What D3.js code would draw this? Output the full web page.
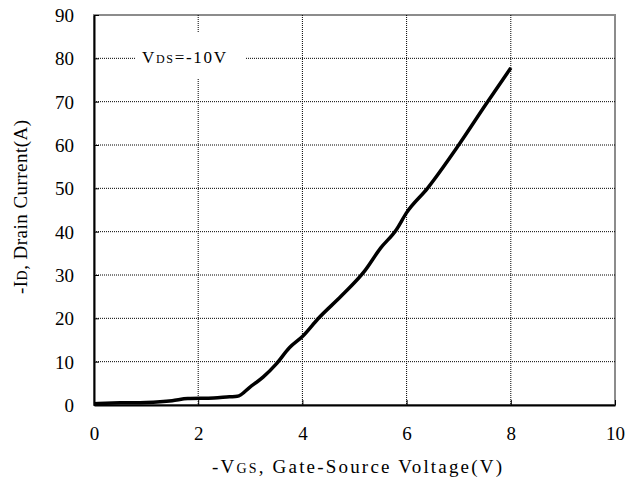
<!DOCTYPE html>
<html>
<head>
<meta charset="utf-8">
<script src="https://cdn.jsdelivr.net/npm/d3@7"></script>
<style>
  body { margin: 0; background: #fff; }
  svg text { font-family: "Liberation Serif", "DejaVu Serif", serif; fill: #000; }
</style>
</head>
<body>
<div id="chart"></div>
<script>
// -VGS (V) vs -ID (A)
const vgs = [0, 0.5, 1.0, 1.5, 1.8, 2.3, 2.6, 2.75, 3.0, 3.25, 3.5, 3.75, 4.0, 4.3, 4.75, 5.2, 5.5, 5.8, 6.0, 6.4, 7.0, 7.5, 8.0];
const idr = [0.3, 0.5, 0.6, 1.0, 1.5, 1.6, 1.9, 2.0, 4.2, 6.5, 9.5, 13.2, 15.8, 19.9, 25.2, 31.0, 36.2, 40.4, 44.4, 50.0, 60, 69.0, 77.8];
const xTicks = [0, 2, 4, 6, 8, 10];
const yTicks = [0, 10, 20, 30, 40, 50, 60, 70, 80, 90];

const width = 626, height = 481;
const margin = {top: 15, right: 11, bottom: 76, left: 94};
const w = width - margin.left - margin.right;
const h = height - margin.top - margin.bottom;

const svg = d3.select('#chart').append('svg')
  .attr('width', width)
  .attr('height', height);

const g = svg.append('g')
  .attr('transform', `translate(${margin.left},${margin.top})`);

const x = d3.scaleLinear().domain([0, 10]).range([0, w]);
const y = d3.scaleLinear().domain([0, 90]).range([h, 0]);

// plot frame (grey top/right)
g.append('rect')
  .attr('width', w).attr('height', h)
  .attr('fill', 'none')
  .attr('stroke', '#8c8c8c')
  .attr('stroke-width', 2);

// dotted grid
g.append('g').selectAll('line')
  .data(xTicks.slice(1, -1))
  .join('line')
  .attr('x1', d => x(d)).attr('x2', d => x(d))
  .attr('y1', 0).attr('y2', h)
  .attr('stroke', '#000').attr('stroke-width', 1)
  .attr('stroke-dasharray', '1,1');

g.append('g').selectAll('line')
  .data(yTicks.slice(1, -1))
  .join('line')
  .attr('x1', 0).attr('x2', w)
  .attr('y1', d => y(d)).attr('y2', d => y(d))
  .attr('stroke', '#000').attr('stroke-width', 1)
  .attr('stroke-dasharray', '1,1');

// axes
const xAxis = g.append('g')
  .attr('transform', `translate(0,${h})`)
  .call(d3.axisBottom(x).tickValues(xTicks).tickSizeInner(-5).tickSizeOuter(0).tickPadding(22));
const yAxis = g.append('g')
  .call(d3.axisLeft(y).tickValues(yTicks).tickSizeInner(-5).tickSizeOuter(0).tickPadding(20));

[xAxis, yAxis].forEach(a => {
  a.select('.domain').attr('stroke', '#000').attr('stroke-width', 2);
  a.selectAll('.tick line').attr('stroke', '#000');
  a.selectAll('.tick text')
    .style('font-family', '"Liberation Serif", serif')
    .style('font-size', '19px')
    .attr('fill', '#000');
});
yAxis.selectAll('.tick text').attr('dy', '0.35em');

// legend box
const lg = g.append('g');
lg.append('rect')
  .attr('x', 41).attr('y', 17)
  .attr('width', 110).attr('height', 47)
  .attr('fill', '#fff');
const lt = lg.append('text')
  .attr('x', 48).attr('y', 48)
  .attr('textLength', 84)
  .attr('lengthAdjust', 'spacing')
  .style('font-size', '17px');
lt.append('tspan').text('V');
lt.append('tspan').style('font-size', '12px').text('DS');
lt.append('tspan').text('=-10V');

// curve
const pts = vgs.map((v, i) => [v, idr[i]]);
g.append('path')
  .datum(pts)
  .attr('fill', 'none')
  .attr('stroke', '#000')
  .attr('stroke-width', 3.5)
  .attr('stroke-linejoin', 'round')
  .attr('d', d3.line().curve(d3.curveMonotoneX).x(d => x(d[0])).y(d => y(d[1])));

// axis titles
const xt = svg.append('text')
  .attr('x', 212).attr('y', 473)
  .attr('textLength', 290)
  .attr('lengthAdjust', 'spacing')
  .style('font-size', '19px');
xt.append('tspan').text('-V');
xt.append('tspan').style('font-size', '14px').text('GS');
xt.append('tspan').text(', Gate-Source Voltage(V)');

const yt = svg.append('text')
  .attr('transform', 'translate(27,294) rotate(-90)')
  .attr('textLength', 174)
  .attr('lengthAdjust', 'spacing')
  .style('font-size', '19px');
yt.append('tspan').text('-I');
yt.append('tspan').style('font-size', '14px').text('D');
yt.append('tspan').text(', Drain Current(A)');
</script>
</body>
</html>
